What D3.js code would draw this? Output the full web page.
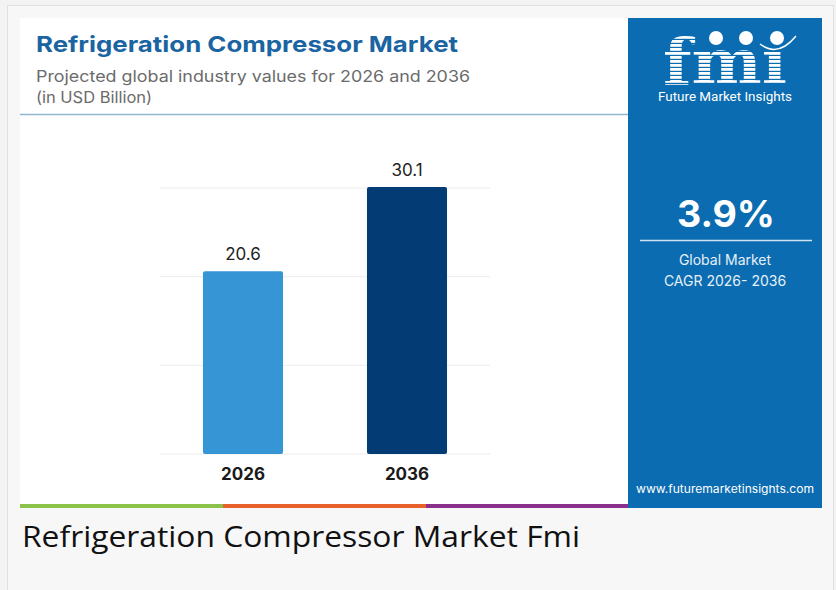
<!DOCTYPE html>
<html>
<head>
<meta charset="utf-8">
<script src="https://cdn.jsdelivr.net/npm/d3@7"></script>
<style>
  body { margin: 0; background: #f3f3f3; }
  svg { display: block; }
</style>
</head>
<body>
<div class="canvas"></div>
<script>
const years = ["2026", "2036"];
const values = [20.6, 30.1];
const gridTicks = [0, 10, 20, 30];
const barColors = ["#3595d5", "#033b75"];
const cagr = "3.9%";
const stripeColors = ["#8bc34a", "#e8612c", "#8a2f8c"];

const W = 836, H = 590;

const svg = d3.select(".canvas").append("svg")
  .attr("width", W).attr("height", H);

const defs = svg.append("defs");
const pat = defs.append("pattern")
  .attr("id", "stripes")
  .attr("patternUnits", "userSpaceOnUse")
  .attr("width", 8).attr("height", 4);
pat.append("rect").attr("width", 8).attr("height", 4).attr("fill", "#0b6cb1");
pat.append("rect").attr("width", 8).attr("height", 2.8).attr("fill", "#ffffff");

// card frame
svg.append("rect").attr("x", 0).attr("y", 0).attr("width", W).attr("height", H).attr("fill", "#f3f3f3");
svg.append("rect")
  .attr("x", 7.5).attr("y", 5.5).attr("width", 826).attr("height", 600)
  .attr("fill", "#f7f7f7").attr("stroke", "#e0e0e0");

// infographic area
svg.append("rect").attr("x", 20).attr("y", 18).attr("width", 608).attr("height", 490).attr("fill", "#ffffff");
svg.append("rect").attr("x", 628).attr("y", 18).attr("width", 194).attr("height", 490).attr("fill", "#0b6cb1");

// header
svg.append("text")
  .attr("x", 36).attr("y", 52)
  .attr("font-family", "Inter, sans-serif").attr("font-weight", 700)
  .attr("font-size", 22).attr("fill", "#1a64a2")
  .attr("textLength", 422).attr("lengthAdjust", "spacingAndGlyphs")
  .text("Refrigeration Compressor Market");
svg.append("text")
  .attr("x", 36).attr("y", 82)
  .attr("font-family", "Inter, sans-serif")
  .attr("font-size", 16).attr("fill", "#6b6b6b")
  .attr("textLength", 434).attr("lengthAdjust", "spacingAndGlyphs")
  .text("Projected global industry values for 2026 and 2036");
svg.append("text")
  .attr("x", 36).attr("y", 103)
  .attr("font-family", "Inter, sans-serif")
  .attr("font-size", 16).attr("fill", "#6b6b6b")
  .attr("textLength", 116).attr("lengthAdjust", "spacingAndGlyphs")
  .text("(in USD Billion)");
svg.append("line")
  .attr("x1", 20).attr("x2", 628).attr("y1", 114.5).attr("y2", 114.5)
  .attr("stroke", "#8fb6d3").attr("stroke-width", 1.5);

// chart
const x = d3.scaleBand().domain(years).range([160, 490])
  .paddingInner(0.512).paddingOuter(0.262);
const y = d3.scaleLinear().domain([0, 30]).range([454, 188]);

const chart = svg.append("g");

chart.selectAll(".grid").data(gridTicks).enter().append("line")
  .attr("class", "grid")
  .attr("x1", 160).attr("x2", 490)
  .attr("y1", (d) => y(d)).attr("y2", (d) => y(d))
  .attr("stroke", "#ececec").attr("stroke-width", 1);

chart.selectAll(".bar").data(values).enter().append("rect")
  .attr("class", "bar")
  .attr("x", (d, i) => x(years[i]))
  .attr("y", (d) => y(d))
  .attr("width", x.bandwidth())
  .attr("height", (d) => y(0) - y(d))
  .attr("rx", 2)
  .attr("fill", (d, i) => barColors[i]);

chart.selectAll(".val").data(values).enter().append("text")
  .attr("class", "val")
  .attr("x", (d, i) => x(years[i]) + x.bandwidth() / 2)
  .attr("y", (d) => y(d) - 11)
  .attr("text-anchor", "middle")
  .attr("font-family", "Inter, sans-serif")
  .attr("font-size", 17).attr("fill", "#222")
  .text((d) => d.toFixed(1));

chart.selectAll(".yr").data(years).enter().append("text")
  .attr("class", "yr")
  .attr("x", (d) => x(d) + x.bandwidth() / 2)
  .attr("y", 480)
  .attr("text-anchor", "middle")
  .attr("font-family", "Inter, sans-serif").attr("font-weight", 700)
  .attr("font-size", 17).attr("fill", "#1a1a1a")
  .text((d) => d);

// bottom colour strip
stripeColors.forEach((c, i) => {
  svg.append("rect")
    .attr("x", 20 + i * 203).attr("y", 504)
    .attr("width", i === 2 ? 202 : 203).attr("height", 4)
    .attr("fill", c);
});

// side panel
svg.append("text")
  .attr("x", 725).attr("y", 84)
  .attr("text-anchor", "middle")
  .attr("font-family", "DejaVu Serif, serif").attr("font-weight", 700)
  .attr("font-size", 64).attr("fill", "url(#stripes)")
  .attr("textLength", 124).attr("lengthAdjust", "spacingAndGlyphs")
  .text("fm\u0131");
[716, 746, 777].forEach((cx) => {
  svg.append("circle").attr("cx", cx).attr("cy", 38).attr("r", 7)
    .attr("fill", "#ffffff");
});
svg.append("path")
  .attr("d", "M760,44 Q778,58 796,36")
  .attr("fill", "none").attr("stroke", "#ffffff").attr("stroke-width", 1.5);
svg.append("text")
  .attr("x", 725).attr("y", 101)
  .attr("text-anchor", "middle")
  .attr("font-family", "Roboto, sans-serif")
  .attr("font-size", 12.5).attr("fill", "#ffffff")
  .attr("textLength", 134).attr("lengthAdjust", "spacingAndGlyphs")
  .text("Future Market Insights");

svg.append("text")
  .attr("x", 726).attr("y", 227)
  .attr("text-anchor", "middle")
  .attr("font-family", "Inter, sans-serif").attr("font-weight", 700)
  .attr("font-size", 37).attr("fill", "#ffffff")
  .attr("textLength", 98).attr("lengthAdjust", "spacingAndGlyphs")
  .text(cagr);
svg.append("line")
  .attr("x1", 640).attr("x2", 812).attr("y1", 240.5).attr("y2", 240.5)
  .attr("stroke", "#cfe3f3").attr("stroke-width", 1.5);
svg.append("text")
  .attr("x", 725).attr("y", 265)
  .attr("text-anchor", "middle")
  .attr("font-family", "Inter, sans-serif")
  .attr("font-size", 14).attr("fill", "#e6f0f8")
  .text("Global Market");
svg.append("text")
  .attr("x", 725).attr("y", 286)
  .attr("text-anchor", "middle")
  .attr("font-family", "Inter, sans-serif")
  .attr("font-size", 14).attr("fill", "#e6f0f8")
  .text("CAGR 2026- 2036");
svg.append("text")
  .attr("x", 725).attr("y", 493)
  .attr("text-anchor", "middle")
  .attr("font-family", "Inter, sans-serif")
  .attr("font-size", 11).attr("fill", "#ffffff")
  .attr("textLength", 178).attr("lengthAdjust", "spacingAndGlyphs")
  .text("www.futuremarketinsights.com");

// caption
svg.append("text")
  .attr("x", 22).attr("y", 547)
  .attr("font-family", "Open Sans, sans-serif")
  .attr("font-size", 30).attr("fill", "#111111")
  .attr("textLength", 558).attr("lengthAdjust", "spacingAndGlyphs")
  .text("Refrigeration Compressor Market Fmi");
</script>
</body>
</html>
